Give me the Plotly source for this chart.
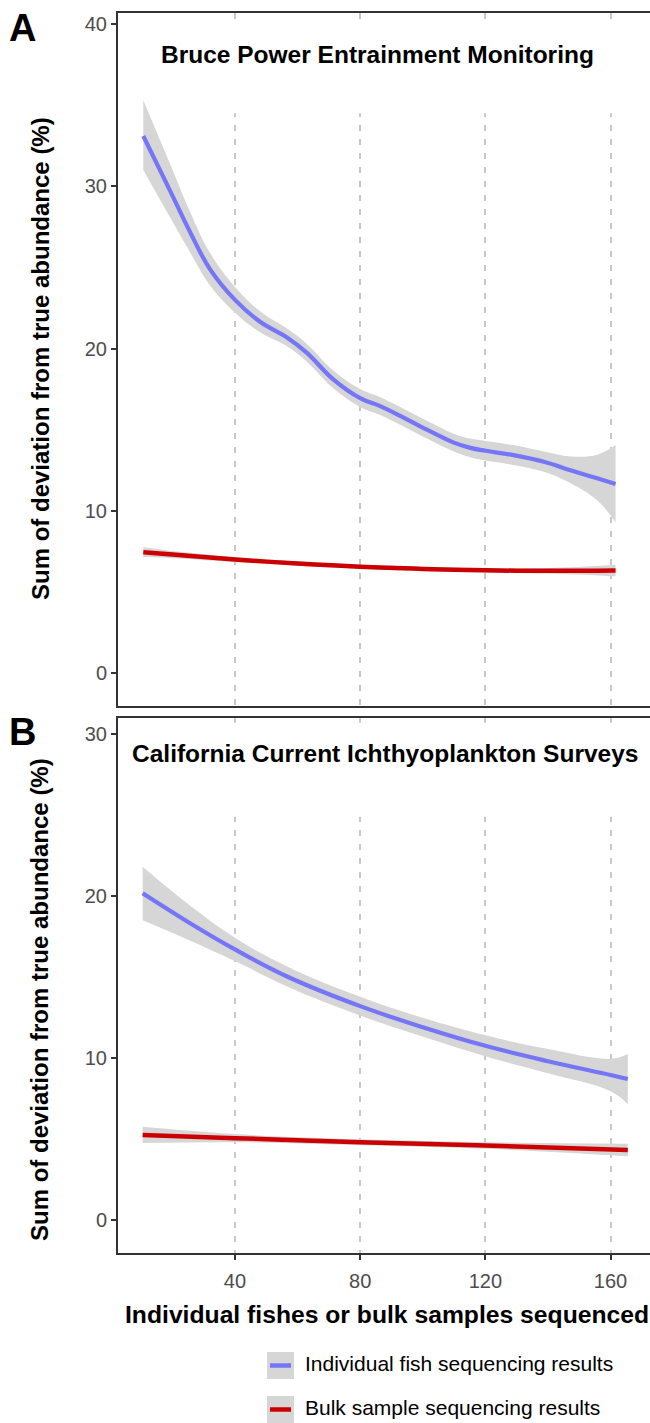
import plotly.graph_objects as go

# ---------------- data ----------------
# Panel A: Bruce Power Entrainment Monitoring
a_ind_x = [10.7, 19.2, 25.6, 32, 40, 48, 56.5, 62.9, 71.4, 80, 86.4, 92.8, 101.3, 109.9, 115.2, 120, 129, 138.7, 147.2, 155.7, 161.6]
a_ind_y = [33.1, 29.75, 27.2, 24.9, 23.0, 21.65, 20.7, 19.75, 18.1, 16.94, 16.45, 15.85, 15.0, 14.2, 13.88, 13.7, 13.43, 13.02, 12.5, 12.0, 11.65]
a_ind_hi = [35.3, 31.4, 28.45, 25.9, 23.8, 22.3, 21.25, 20.3, 18.65, 17.5, 17.0, 16.4, 15.55, 14.75, 14.45, 14.3, 14.05, 13.65, 13.35, 13.45, 14.05]
a_ind_lo = [31.0, 28.1, 25.95, 23.9, 22.2, 21.0, 20.15, 19.2, 17.55, 16.4, 15.9, 15.3, 14.45, 13.65, 13.3, 13.1, 12.83, 12.4, 11.7, 10.65, 9.3]

a_bulk_x = [10.7, 20, 40, 60, 80, 100, 120, 140, 161.6]
a_bulk_y = [7.45, 7.3, 7.0, 6.75, 6.55, 6.42, 6.33, 6.3, 6.32]
a_bulk_hi = [7.75, 7.52, 7.15, 6.88, 6.67, 6.55, 6.47, 6.47, 6.67]
a_bulk_lo = [7.15, 7.08, 6.85, 6.62, 6.43, 6.29, 6.19, 6.13, 5.97]

# Panel B: California Current Ichthyoplankton Surveys
b_ind_x = [10.5, 25, 40, 57, 80, 100, 120, 140, 160, 165.5]
b_ind_y = [20.17, 18.4, 16.7, 15.0, 13.2, 11.9, 10.75, 9.8, 8.95, 8.7]
b_ind_hi = [21.8, 19.5, 17.42, 15.62, 13.78, 12.48, 11.4, 10.55, 9.95, 10.25]
b_ind_lo = [18.5, 17.3, 15.98, 14.38, 12.62, 11.32, 10.1, 9.05, 7.95, 7.15]

b_bulk_x = [10.5, 40, 80, 120, 165.5]
b_bulk_y = [5.25, 5.05, 4.8, 4.6, 4.32]
b_bulk_hi = [5.75, 5.3, 4.98, 4.8, 4.7]
b_bulk_lo = [4.75, 4.8, 4.62, 4.4, 3.94]

x_ticks = [40, 80, 120, 160]
a_y_ticks = [0, 10, 20, 30, 40]
b_y_ticks = [0, 10, 20, 30]

panel_titles = ["Bruce Power Entrainment Monitoring", "California Current Ichthyoplankton Surveys"]
series_names = ["Individual fish sequencing results", "Bulk sample sequencing results"]
x_title = "Individual fishes or bulk samples sequenced"
y_title = "Sum of deviation from true abundance (%)"

# ---------------- styling ----------------
FONT = "Liberation Sans"
BLUE = "#7575F7"
RED = "#CC0000"
RIB = "#D6D6D6"
AX = "#333333"
TICKC = "#4D4D4D"

fig = go.Figure()


def add_smooth(x, y, lo, hi, color, xa, ya, width):
    fig.add_trace(go.Scatter(x=x, y=lo, mode="lines", line=dict(width=0, shape="spline", smoothing=1.1),
                             xaxis=xa, yaxis=ya, showlegend=False, hoverinfo="skip"))
    fig.add_trace(go.Scatter(x=x, y=hi, mode="lines", line=dict(width=0, shape="spline", smoothing=1.1),
                             fill="tonexty", fillcolor=RIB,
                             xaxis=xa, yaxis=ya, showlegend=False, hoverinfo="skip"))
    fig.add_trace(go.Scatter(x=x, y=y, mode="lines",
                             line=dict(color=color, width=width, shape="spline", smoothing=1.1),
                             xaxis=xa, yaxis=ya, showlegend=False))


add_smooth(a_ind_x, a_ind_y, a_ind_lo, a_ind_hi, BLUE, "x", "y", 4.2)
add_smooth(a_bulk_x, a_bulk_y, a_bulk_lo, a_bulk_hi, RED, "x", "y", 4.5)
add_smooth(b_ind_x, b_ind_y, b_ind_lo, b_ind_hi, BLUE, "x2", "y2", 4.2)
add_smooth(b_bulk_x, b_bulk_y, b_bulk_lo, b_bulk_hi, RED, "x2", "y2", 4.5)

W, H = 650, 1423
ML, MR, MT, MB = 118, 0, 13, 170
PW, PH = W - ML - MR, H - MT - MB
plot_bottom = H - MB


def px_x(px):
    return (px - ML) / PW


def px_y(py):
    return (plot_bottom - py) / PH


xrange_ = [2.62, 172.6]
common_x = dict(range=xrange_, tickvals=x_ticks, showgrid=True, gridcolor="#C8C8C8",
                gridwidth=1.6, griddash="6px,8px", showline=True, linecolor=AX, linewidth=2,
                mirror=True, zeroline=False, tickfont=dict(family=FONT, size=20, color=TICKC))
common_y = dict(showgrid=False, zeroline=False, showline=True, linecolor=AX, linewidth=2,
                ticks="outside", ticklen=5, tickwidth=1.5, tickcolor=AX,
                tickfont=dict(family=FONT, size=20, color=TICKC))

fig.update_layout(
    width=W, height=H,
    margin=dict(l=ML, r=MR, t=MT, b=MB),
    paper_bgcolor="white", plot_bgcolor="white",
    showlegend=False,
    xaxis=dict(domain=[0, 1], anchor="y", showticklabels=False, ticks="", **common_x),
    yaxis=dict(domain=[px_y(706), 1], anchor="x", range=[-2.03, 40.68], tickvals=a_y_ticks, **common_y),
    xaxis2=dict(domain=[0, 1], anchor="y2", ticks="outside", ticklen=5, tickwidth=1.5,
                tickcolor=AX, ticklabelstandoff=4, **common_x),
    yaxis2=dict(domain=[0, px_y(718)], anchor="x2", range=[-2.04, 30.99], tickvals=b_y_ticks, **common_y),
)

# white boxes behind panel titles (cover gridlines, below data)
fig.add_shape(type="rect", xref="x", yref="y", x0=xrange_[0], x1=xrange_[1], y0=34.5, y1=40.0,
              fillcolor="white", line=dict(width=0), layer="between")
fig.add_shape(type="rect", xref="x2", yref="y2", x0=xrange_[0], x1=xrange_[1], y0=24.9, y1=30.7,
              fillcolor="white", line=dict(width=0), layer="between")

ann = []
# panel titles
ann.append(dict(x=85.4, y=38.1, xref="x", yref="y", text="<b>" + panel_titles[0] + "</b>",
                showarrow=False, font=dict(family=FONT, size=24.5, color="black"),
                xanchor="center", yanchor="middle"))
ann.append(dict(x=87.8, y=28.77, xref="x2", yref="y2", text="<b>" + panel_titles[1] + "</b>",
                showarrow=False, font=dict(family=FONT, size=24.5, color="black"),
                xanchor="center", yanchor="middle"))
# panel letters
ann.append(dict(x=px_x(22.5), y=px_y(28), xref="paper", yref="paper", text="<b>A</b>",
                showarrow=False, font=dict(family=FONT, size=38, color="black"),
                xanchor="center", yanchor="middle"))
ann.append(dict(x=px_x(22), y=px_y(732), xref="paper", yref="paper", text="<b>B</b>",
                showarrow=False, font=dict(family=FONT, size=38, color="black"),
                xanchor="center", yanchor="middle"))
# y titles
ann.append(dict(x=px_x(40), y=px_y(359), xref="paper", yref="paper", text="<b>" + y_title + "</b>",
                textangle=-90, showarrow=False, font=dict(family=FONT, size=24, color="black"),
                xanchor="center", yanchor="middle"))
ann.append(dict(x=px_x(40), y=px_y(1000), xref="paper", yref="paper", text="<b>" + y_title + "</b>",
                textangle=-90, showarrow=False, font=dict(family=FONT, size=24, color="black"),
                xanchor="center", yanchor="middle"))
# x title
ann.append(dict(x=px_x(386.5), y=px_y(1314), xref="paper", yref="paper", text="<b>" + x_title + "</b>",
                showarrow=False, font=dict(family=FONT, size=24.7, color="black"),
                xanchor="center", yanchor="middle"))

# legend (manual, ggplot style keys)
for i, (name, col, cy) in enumerate([(series_names[0], BLUE, 1365.5), (series_names[1], RED, 1409.5)]):
    fig.add_shape(type="rect", xref="paper", yref="paper",
                  x0=px_x(267), x1=px_x(294), y0=px_y(cy + 13.5), y1=px_y(cy - 13.5),
                  fillcolor=RIB, line=dict(width=0))
    fig.add_shape(type="line", xref="paper", yref="paper",
                  x0=px_x(270), x1=px_x(291), y0=px_y(cy), y1=px_y(cy),
                  line=dict(color=col, width=4.5))
    ann.append(dict(x=px_x(303), y=px_y(cy - 2), xref="paper", yref="paper", text=name,
                    showarrow=False, font=dict(family=FONT, size=21, color="black"),
                    xanchor="left", yanchor="middle"))

fig.update_layout(annotations=ann)
fig.write_html("out.html")
